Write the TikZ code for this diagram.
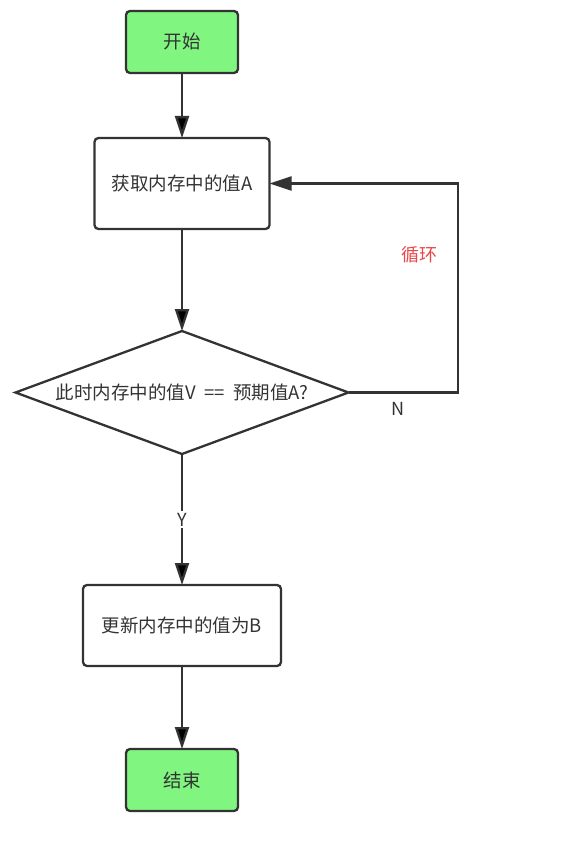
\documentclass[tikz,border=0pt]{standalone}
\usepackage{fontspec}
\newfontfamily\cjk{Noto Sans CJK SC}
\usepackage{tikz}
\usetikzlibrary{positioning, arrows.meta, shapes.geometric}

\definecolor{linegray}{HTML}{333333}
\definecolor{textgray}{HTML}{333333}
\definecolor{termgreen}{RGB}{128,245,128}
\definecolor{loopred}{HTML}{E8474A}

\tikzset{
    box/.style={draw=linegray, line width=2.3pt, rounded corners=4pt, outer sep=0pt,
        text=textgray, font=\cjk\fontsize{18.5}{22}\selectfont},
    term/.style={box, fill=termgreen, minimum width=112pt, minimum height=62pt},
    decision/.style={draw=linegray, line width=2.3pt, diamond, aspect=2.7, inner sep=0pt,
        outer sep=0pt, text=textgray, font=\cjk\fontsize{18.5}{22}\selectfont,
        minimum width=333pt, minimum height=123pt},
    flow/.style={draw=linegray, line width=2.3pt, -{Triangle[length=22pt,width=14pt]}},
    lbl/.style={text=textgray, font=\cjk\fontsize{18}{21}\selectfont},
}

\begin{document}
\begin{tikzpicture}[x=1pt, y=1pt]
    \useasboundingbox (0,0) rectangle (581,-850);

    \node[term] (start) at (182,-42) {开始};
    \node[box, below=65pt of start, minimum width=175pt, minimum height=91pt] (get) {获取内存中的值A};
    \node[decision, below=102pt of get] (cmp) {此时内存中的值V\ \ ==\ \ 预期值A?};
    \node[box, below=131pt of cmp, minimum width=198pt, minimum height=81pt] (upd) {更新内存中的值为B};
    \node[term, below=83pt of upd] (end) {结束};
    \coordinate (back) at (458,-184);

    \draw[flow]
        (start) edge (get)
        (get) edge (cmp)
        (cmp) edge node[lbl, fill=white, inner sep=2pt] {Y} (upd)
        (upd) edge (end)
        ;
    \draw[flow] (cmp.east) -- node[pos=0.45, below=5pt, lbl] {N} (cmp.east -| back)
        |- node[pos=0.33, left=16pt, lbl, text=loopred] {循环} (get.east);
\end{tikzpicture}
\end{document}
